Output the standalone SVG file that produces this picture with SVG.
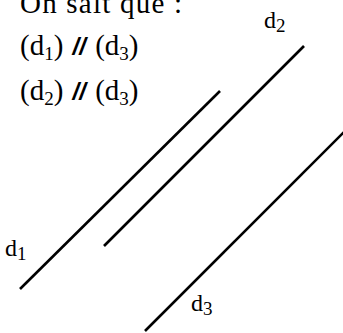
<svg xmlns="http://www.w3.org/2000/svg" width="343" height="333" viewBox="0 0 343 333">
<style>
text{font-family:"Liberation Serif","DejaVu Serif",serif;fill:#000}
.t{font-size:29px}
.lbl{font-size:24px}
.sub{font-size:19px}
.sl{font-weight:bold;font-style:italic;font-family:"Liberation Sans",sans-serif;font-size:24px}
.ln{stroke:#000;stroke-width:2.6;fill:none}
</style>
<rect width="343" height="333" fill="#fff"/>
<g id="text">
<text class="t" x="20" y="13" textLength="162">On sait que :</text>
<text class="t" x="20" y="55">(d<tspan class="sub" dy="5">1</tspan><tspan dy="-5">) </tspan><tspan class="sl" dx="2">//</tspan><tspan dx="2"> (d</tspan><tspan class="sub" dy="5">3</tspan><tspan dy="-5">)</tspan></text>
<text class="t" x="20" y="100">(d<tspan class="sub" dy="5">2</tspan><tspan dy="-5">) </tspan><tspan class="sl" dx="2">//</tspan><tspan dx="2"> (d</tspan><tspan class="sub" dy="5">3</tspan><tspan dy="-5">)</tspan></text>
</g>
<g id="connectors">
<line id="d1" class="ln" x1="20" y1="289" x2="220" y2="91"/>
<line id="d2" class="ln" x1="104" y1="246" x2="304" y2="46"/>
<line id="d3" class="ln" x1="145" y1="331" x2="344" y2="132"/>
</g>
<g id="labels">
<text class="lbl" x="5" y="256">d<tspan class="sub" dy="4">1</tspan></text>
<text class="lbl" x="264" y="28">d<tspan class="sub" dy="4">2</tspan></text>
<text class="lbl" x="191" y="311">d<tspan class="sub" dy="4">3</tspan></text>
</g>
</svg>
